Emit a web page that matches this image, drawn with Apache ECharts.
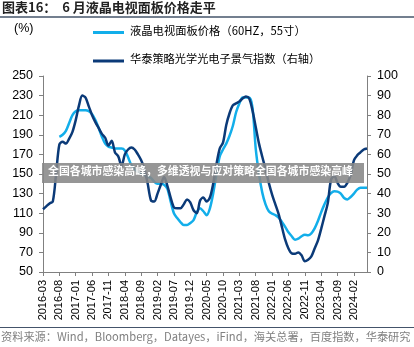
<!DOCTYPE html>
<html><head><meta charset="utf-8">
<script src="https://cdn.jsdelivr.net/npm/echarts@6/dist/echarts.min.js"></script>
<style>html,body{margin:0;padding:0;background:#fff}#c{width:414px;height:347px}</style>
</head><body><div id="c"></div>
<script>
// Monthly categories 2016-03 .. 2024-06
const categories = [];
for (let y = 2016, m = 3; !(y === 2024 && m === 7); ) {
  categories.push(y + '-' + String(m).padStart(2, '0'));
  m++; if (m > 12) { m = 1; y++; }
}
// LCD TV panel price (60HZ, 55") - left axis
const panelPrice = [null,null,null,null,null,
 188,190,194,202,210,214,215,215,215,214,211,205,197,188,181,
 178,177,176,176,176,174,167,159,155,152,151,149,147,146,142,
 140,140,139,135,122,110,105,101,98,98,100,103,111,115,112,
 108,115,130,150,168,175,181,189,199,213,222,228,228,228,218,
 176,150,131,119,112,109.5,108,105.5,101,96,90.5,86.5,83,84,86.5,
 88,87.5,89.5,94.5,102,111,119,126,130.5,132.5,132,130,125.5,124,126.5,
 130,134,136,136,136];
// Huatai optics/optoelectronics prosperity index - right axis
const prosperityIdx = [32,33.5,35,36,50,65,66.5,65.5,68,71.5,77.5,85,90,89,84.5,80,76.5,73.5,70.5,68.5,
 64.5,67,61,59,54,60,62.5,63.5,62.5,60,57,52.5,45,36.5,36,40,44.5,48.5,44,38,
 33,32.5,32.5,34.5,37,35.5,31.5,30,36.5,38,36,38,45,55,63,66,75,81,85,86,
 87,88.5,89.5,88.5,82.5,74,65.5,58.8,52.5,45.5,39.5,34.5,29.5,23,16.5,12,9.5,9.3,10,8.5,
 5.5,6.3,8,12,16,22,28.5,35,47,49,45.5,43.5,43.5,45.5,49.5,57,59.5,61,62.5,63];
const leftTicks = {min: 50, max: 250, interval: 20};
const rightTicks = {min: 0, max: 100, interval: 10};

const LIGHT = '#12AEEA', DARK = '#0B3A78', AX = '#808080';
const cjk = '"Noto Sans CJK SC", sans-serif';
const chart = echarts.init(document.getElementById('c'), null, {renderer: 'canvas'});
chart.setOption({
  animation: false,
  grid: {left: 43, right: 47, top: 76, bottom: 75},
  xAxis: {
    type: 'category', data: categories, boundaryGap: false,
    axisLine: {lineStyle: {color: AX, width: 1}},
    axisTick: {interval: 4, length: 4, lineStyle: {color: AX}},
    axisLabel: {interval: 4, rotate: 90, color: '#000', fontSize: 11, fontFamily: 'Liberation Sans, Arial', margin: 8}
  },
  yAxis: [
    {type: 'value', min: leftTicks.min, max: leftTicks.max, interval: leftTicks.interval,
     axisLine: {show: true, lineStyle: {color: AX}}, axisTick: {show: true, length: 4, lineStyle: {color: AX}},
     splitLine: {show: false},
     axisLabel: {color: '#000', fontSize: 12.5, fontFamily: 'Liberation Sans, Arial', margin: 10}},
    {type: 'value', min: rightTicks.min, max: rightTicks.max, interval: rightTicks.interval, position: 'right',
     axisLine: {show: true, lineStyle: {color: AX}}, axisTick: {show: true, length: 4, lineStyle: {color: AX}},
     splitLine: {show: false},
     axisLabel: {color: '#000', fontSize: 12.5, fontFamily: 'Liberation Sans, Arial', margin: 10}}
  ],
  series: [
    {type: 'line', yAxisIndex: 0, data: panelPrice, showSymbol: false, smooth: 0.3,
     lineStyle: {color: LIGHT, width: 2.5}, itemStyle: {color: LIGHT}},
    {type: 'line', yAxisIndex: 1, data: prosperityIdx, showSymbol: false, smooth: 0.3,
     lineStyle: {color: DARK, width: 2.5}, itemStyle: {color: DARK}}
  ],
  graphic: [
    {type: 'text', left: 2, top: 1, style: {text: '图表16：  6 月液晶电视面板价格走平', fill: '#222', font: 'bold 13px ' + cjk}},
    {type: 'line', shape: {x1: 0, y1: 17, x2: 414, y2: 17}, style: {stroke: '#44546A', lineWidth: 1.5}},
    {type: 'text', left: 14, top: 22, style: {text: '(%)', fill: '#000', font: '12.5px Liberation Sans, Arial'}},
    {type: 'line', shape: {x1: 93, y1: 32.5, x2: 124, y2: 32.5}, style: {stroke: LIGHT, lineWidth: 3}},
    {type: 'text', left: 130, top: 25, style: {text: '液晶电视面板价格（60HZ，55寸）', fill: '#000', font: '11.3px ' + cjk}},
    {type: 'line', shape: {x1: 93, y1: 61, x2: 124, y2: 61}, style: {stroke: DARK, lineWidth: 3}},
    {type: 'text', left: 130, top: 53.5, style: {text: '华泰策略光学光电子景气指数（右轴）', fill: '#000', font: '11.2px ' + cjk}},
    {type: 'rect', shape: {x: 42, y: 163, width: 322, height: 20}, style: {fill: 'rgba(135,135,135,0.88)'}, z: 100},
    {type: 'text', left: 48, top: 165, z: 101, style: {text: '全国各城市感染高峰，多维透视与应对策略全国各城市感染高峰', fill: '#fff', font: 'bold 10.9px ' + cjk}},
    {type: 'line', shape: {x1: 0, y1: 327.5, x2: 414, y2: 327.5}, style: {stroke: '#44546A', lineWidth: 1}},
    {type: 'text', left: 1, top: 331, style: {text: '资料来源：Wind，Bloomberg，Datayes，iFind，海关总署，百度指数，华泰研究', fill: '#808080', font: '11.2px ' + cjk}}
  ]
});
</script></body></html>
